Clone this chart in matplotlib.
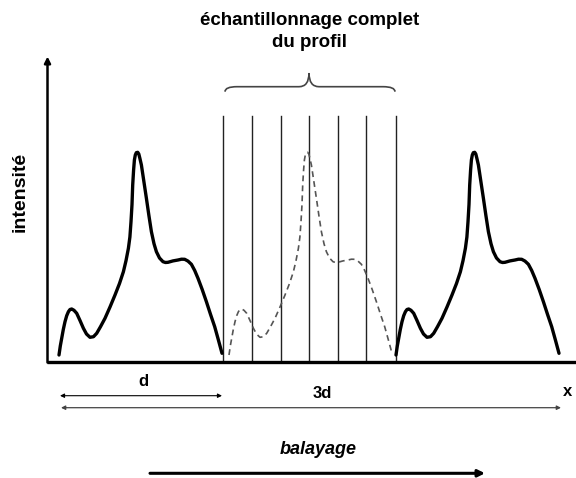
import matplotlib
matplotlib.use("Agg")
import matplotlib.pyplot as plt
from matplotlib.path import Path
from matplotlib.patches import PathPatch

plt.rcParams['font.family'] = ['Liberation Sans', 'DejaVu Sans']

# ---- data ----
# one period of the intensity profile: position within the period, intensity
profile_pos = [0, 1.3, 2.7, 4.3, 6, 7.7, 9.4, 11, 12.7, 15, 17.7, 21, 24.4, 27.5,
               31, 34.5, 37.7, 41.5, 46, 51, 56, 60.5, 64.4, 67, 69.4, 70.9, 72,
               73, 73.7, 74.6, 75.4, 76.3, 77.3, 78.7, 79.8, 80.8, 82.4, 84.8,
               87.4, 89.9, 92.4, 95, 97.4, 100.5, 104, 106.5, 109, 114, 119,
               122.5, 125.7, 129, 132.4, 135.7, 139, 143.2, 147.4, 151.5, 155.7,
               159.4, 163]
profile_int = [6.5, 15.5, 23.2, 32.0, 39.8, 45.8, 49.8, 52.0, 52.5, 51.2, 48.2,
               41.0, 33.2, 27.5, 24.2, 24.8, 28.2, 34.8, 43.2, 54.5, 66.5, 78.0,
               89.8, 100.8, 113.2, 124.5, 139.8, 157.0, 176.5, 191.5, 201.5,
               206.5, 208.8, 209.2, 207.5, 203.5, 196.5, 180.5, 163.2, 146.0,
               129.8, 117.8, 109.8, 103.5, 99.8, 99.0, 99.2, 100.6, 101.5, 102.3,
               102.2, 100.4, 97.2, 91.0, 83.2, 72.0, 59.8, 47.2, 34.8, 21.5, 8.2]
period_starts = [59, 229, 396]          # start of each repeated profile
period_styles = ['solid', 'dashed', 'solid']
sample_x = [223.3, 251.7, 280.7, 309, 337.7, 366, 395.7]   # sampling lines
sample_top = 246

title_lines = ["échantillonnage complet", "du profil"]
ylabel = "intensité"

# ---- figure ----
fig = plt.figure(figsize=(5.76, 4.78), dpi=100)
ax = fig.add_axes([0, 0, 1, 1])
ax.set_xlim(0, 576)
ax.set_ylim(361.5 - 478, 361.5)
ax.axis('off')

# axes lines
ax.plot([47, 576], [0, 0], color='black', lw=2.4, solid_capstyle='butt', zorder=3)
ax.annotate('', xy=(47.5, 305), xytext=(47.5, -1),
            arrowprops=dict(arrowstyle='-|>', lw=1.8, color='black',
                            mutation_scale=9, shrinkA=0, shrinkB=0))

# sampling lines
for xs in sample_x:
    ax.plot([xs, xs], [0, sample_top], color='#222222', lw=1.0, zorder=2)

# profiles
for start, style in zip(period_starts, period_styles):
    xs = [start + p for p in profile_pos]
    if style == 'solid':
        ax.plot(xs, profile_int, color='black', lw=2.4, solid_joinstyle='round',
                solid_capstyle='round', zorder=4)
    else:
        ax.plot(xs, profile_int, color='#555555', lw=1.2, linestyle=(0, (3.5, 2.5)),
                zorder=4)

# brace
by0, byarm, bytip = 269.8, 274.8, 288.5
bxl, bxm, bxr = 225, 309, 395
verts = [(bxl, by0), (bxl, byarm), (bxl + 12, byarm),
         (bxm - 10, byarm),
         (bxm, byarm), (bxm, bytip),
         (bxm, byarm), (bxm + 10, byarm),
         (bxr - 12, byarm),
         (bxr, byarm), (bxr, by0)]
codes = [Path.MOVETO, Path.CURVE3, Path.CURVE3,
         Path.LINETO,
         Path.CURVE3, Path.CURVE3,
         Path.CURVE3, Path.CURVE3,
         Path.LINETO,
         Path.CURVE3, Path.CURVE3]
ax.add_patch(PathPatch(Path(verts, codes), fill=False, edgecolor='#444444', lw=1.2))

# title
ax.text(310, 361.5 - 20, title_lines[0], ha='center', va='center',
        fontsize=13.5, fontweight='bold')
ax.text(310, 361.5 - 42, title_lines[1], ha='center', va='center',
        fontsize=13.5, fontweight='bold')

# y label
ax.text(20, 361.5 - 192, ylabel, ha='center', va='center', rotation=90,
        fontsize=14, fontweight='bold')

# d and 3d arrows
ax.annotate('', xy=(222, -34.2), xytext=(60, -34.2),
            arrowprops=dict(arrowstyle='<|-|>', lw=0.8, color='black',
                            mutation_scale=6, shrinkA=0, shrinkB=0))
ax.text(143, 361.5 - 381, 'd', ha='center', va='center', fontsize=12,
        fontweight='bold')
ax.annotate('', xy=(561, -46.2), xytext=(61, -46.2),
            arrowprops=dict(arrowstyle='<|-|>', lw=0.9, color='#444444',
                            mutation_scale=6, shrinkA=0, shrinkB=0))
ax.text(322, 361.5 - 393, '3d', ha='center', va='center', fontsize=12,
        fontweight='bold')
ax.text(568, 361.5 - 391, 'x', ha='center', va='center', fontsize=12,
        fontweight='bold')

# balayage
ax.text(318, 361.5 - 450, 'balayage', ha='center', va='center', fontsize=13,
        fontweight='bold', fontstyle='italic')
ax.annotate('', xy=(485, -111.8), xytext=(150, -111.8),
            arrowprops=dict(arrowstyle='-|>', lw=2.2, color='black',
                            mutation_scale=10, shrinkA=0, shrinkB=0))

fig.savefig('out.png', dpi=100, facecolor='white')
